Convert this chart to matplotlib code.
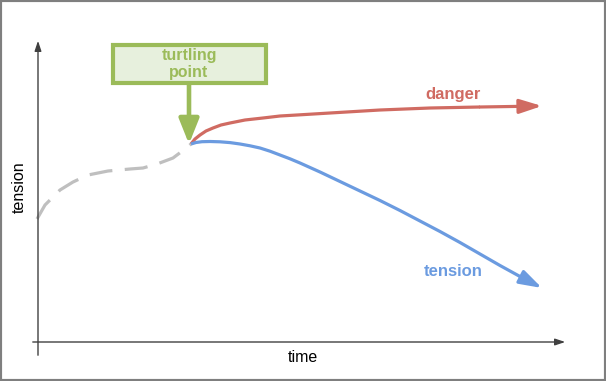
import numpy as np
import matplotlib.pyplot as plt
from matplotlib.patches import FancyBboxPatch, Rectangle

plt.rcParams['font.family'] = ['Liberation Sans', 'DejaVu Sans']

# ------------------------------------------------------------------------------------------
# conceptual curves (time, tension)
past_time = [-1, 7, 22, 35, 50, 70, 92, 105, 119, 135, 147, 153]
past_tension = [123, 137, 152, 160, 167, 171, 173, 174, 178, 184, 193, 198]

danger_time = [153, 157, 162, 168, 175, 183, 192, 207, 225, 242, 259, 292, 342, 392, 442, 504]
danger_tension = [198, 203, 207, 211, 214, 217, 219, 222, 224, 226, 227, 229, 232, 234, 235, 236]

tension_time = [153, 158, 164, 172, 182, 192, 202, 212, 222, 232, 242, 252, 262, 272, 282,
                302, 322, 342, 362, 382, 402, 422, 442, 462, 482, 504]
tension_tension = [198, 199.5, 200.3, 200.5, 200.2, 199.4, 198, 196.2, 194, 190.8, 187, 183.2,
                   179, 174.5, 170, 160.5, 151, 141.5, 131.5, 121, 110.5, 99.5, 88, 76.5, 65.5, 54]

turning_point = (151, 198)

# ------------------------------------------------------------------------------------------
fig = plt.figure(figsize=(6.06, 3.81), dpi=100)
ax = fig.add_axes([0, 0, 1, 1])
ax.set_xlim(-38, 568)
ax.set_ylim(-39, 342)
ax.axis('off')

# frame around the picture
fig.patches.append(Rectangle((0, 0), 1, 1, transform=fig.transFigure,
                             fill=False, edgecolor='#7f7f7f', linewidth=3))

# axes with arrows
ax.annotate('', xy=(530, 0), xytext=(-8, 0),
            arrowprops=dict(arrowstyle='-|>,head_length=0.6,head_width=0.2', color='#404040', lw=1))
ax.annotate('', xy=(0, 304), xytext=(0, -16),
            arrowprops=dict(arrowstyle='-|>,head_length=0.6,head_width=0.2', color='#404040', lw=1))
ax.text(265, -15, 'time', ha='center', va='center', fontsize=11.5)
ax.text(-19, 155, 'tension', ha='center', va='center', rotation=90, fontsize=11.5)

# past (dashed)
ax.plot(past_time, past_tension, color='#bfbfbf', lw=2.3, dashes=(7.2, 3.9),
        solid_joinstyle='round')

# danger
ax.plot(danger_time[:-1], danger_tension[:-1], color='#d06b62', lw=2.3,
        solid_capstyle='butt', solid_joinstyle='round')
ax.annotate('', xy=(danger_time[-1], danger_tension[-1]),
            xytext=(danger_time[-2], danger_tension[-2]),
            arrowprops=dict(arrowstyle='-|>,head_length=1.35,head_width=0.43',
                            color='#d06b62', lw=2.3, shrinkA=0, shrinkB=0))
ax.text(415, 247, 'danger', color='#d06b62', fontsize=12, fontweight='bold',
        ha='center', va='center')

# tension
ax.plot(tension_time[:-1], tension_tension[:-1], color='#6b9be0', lw=2.3,
        solid_capstyle='butt', solid_joinstyle='round')
ax.annotate('', xy=(tension_time[-1], tension_tension[-1]),
            xytext=(tension_time[-2], tension_tension[-2]),
            arrowprops=dict(arrowstyle='-|>,head_length=1.35,head_width=0.43',
                            color='#6b9be0', lw=2.3, shrinkA=0, shrinkB=0))
ax.text(415, 70, 'tension', color='#6b9be0', fontsize=12, fontweight='bold',
        ha='center', va='center')

# turtling point callout
box = FancyBboxPatch((75, 259), 153, 38, boxstyle='square,pad=0',
                     facecolor='#e7f0dd', edgecolor='#9bbb59', linewidth=3)
ax.add_patch(box)
ax.text(151, 278, 'turtling\npoint', color='#9bbb59', fontsize=11.5, fontweight='bold',
        ha='center', va='center', linespacing=1.2)
ax.annotate('', xy=turning_point, xytext=(turning_point[0], 258),
            arrowprops=dict(arrowstyle='-|>,head_length=1.5,head_width=0.6',
                            color='#9bbb59', lw=3.3, shrinkA=0, shrinkB=0))

plt.savefig('out.png', dpi=100)
